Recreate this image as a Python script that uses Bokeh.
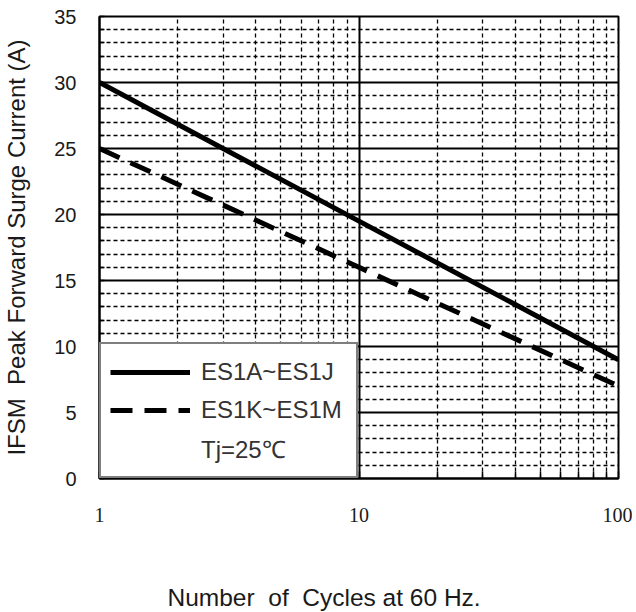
from bokeh.plotting import figure
from bokeh.models import Range1d, FixedTicker, Legend, LegendItem, CustomJSTickFormatter, Title
from bokeh.embed import file_html
from bokeh.resources import INLINE

# ---- data ----
cycles = [1, 10, 100]
es1a_es1j = [30.0, 19.5, 9.0]
es1k_es1m = [25.0, 16.0, 7.0]

y_major = [0, 5, 10, 15, 20, 25, 30, 35]
y_minor = [v for v in range(0, 36) if v % 5 != 0]
x_major = [1, 10, 100]
x_minor = [2, 3, 4, 5, 6, 7, 8, 9, 20, 30, 40, 50, 60, 70, 80, 90]

series_labels = ["ES1A~ES1J", "ES1K~ES1M"]
note_label = "Tj=25\u2103"
x_title = "Number \u00a0of \u00a0Cycles at 60 Hz."
y_title = "IFSM \u00a0Peak Forward Surge Current (A)"

p = figure(width=632, height=612, x_axis_type="log",
           x_range=Range1d(1, 100), y_range=Range1d(0, 35),
           output_backend="svg", toolbar_location=None,
           min_border_left=98, min_border_right=14,
           min_border_top=16, min_border_bottom=134)
p.background_fill_color = "white"
p.border_fill_color = "white"
p.outline_line_color = "black"
p.outline_line_width = 2
p.outline_line_alpha = 1

# tickers
p.xaxis.ticker = FixedTicker(ticks=x_major, minor_ticks=x_minor)
p.yaxis.ticker = FixedTicker(ticks=y_major, minor_ticks=y_minor)
p.xaxis.formatter = CustomJSTickFormatter(code="return String(Math.round(tick));")

# grids
for g in (p.xgrid, p.ygrid):
    g.grid_line_color = "black"
    g.grid_line_width = 2
    g.grid_line_alpha = 1
    g.minor_grid_line_color = "black"
    g.minor_grid_line_width = 1.3
    g.minor_grid_line_dash = "4 3"
    g.minor_grid_line_alpha = 1

# axes
for ax in (p.xaxis, p.yaxis):
    ax.axis_line_color = "black"
    ax.axis_line_width = 2
    ax.major_tick_line_color = "black"
    ax.minor_tick_line_color = "black"
    ax.major_tick_line_width = 1.5
    ax.minor_tick_line_width = 1.5
    ax.major_tick_out = 0
    ax.minor_tick_out = 0
    ax.major_label_text_color = "#1a1a1a"
    ax.axis_label_text_color = "#1a1a1a"
    ax.axis_label_text_font_style = "normal"
    ax.axis_label_text_font = "Liberation Sans"

p.xaxis.major_tick_in = 7
p.xaxis.minor_tick_in = 7
p.yaxis.major_tick_in = 5
p.yaxis.minor_tick_in = 5

p.xaxis.major_label_text_font = "Liberation Serif"
p.xaxis.major_label_text_font_size = "20px"
p.xaxis.major_label_standoff = 29

p.yaxis.major_label_text_font = "Liberation Sans"
p.yaxis.major_label_text_font_size = "20px"
p.yaxis.major_label_standoff = 23
p.yaxis.axis_label = y_title
p.yaxis.axis_label_text_font_size = "24px"
p.yaxis.axis_label_standoff = 21

# blank spacer panel, then the x axis title shifted to be centred on the page
spacer = Title(text=" ", standoff=54, text_font_size="1px")
p.add_layout(spacer, "below")
xt = Title(text=x_title, align="left", offset=68, standoff=0,
           text_font="Liberation Sans", text_font_size="24.5px",
           text_font_style="normal", text_color="#1a1a1a")
p.add_layout(xt, "below")

# curves
r1 = p.line(cycles, es1a_es1j, line_color="black", line_width=5, line_cap="butt")
r2 = p.line(cycles, es1k_es1m, line_color="black", line_width=5,
            line_dash="22 12", line_cap="butt")
r3 = p.line(cycles, es1a_es1j, line_color="black", line_alpha=0, line_width=1)

legend = Legend(items=[LegendItem(label=series_labels[0], renderers=[r1]),
                       LegendItem(label=series_labels[1], renderers=[r2]),
                       LegendItem(label=note_label, renderers=[r3])],
                location="bottom_left", margin=0, padding=9, spacing=0,
                glyph_width=80, glyph_height=38, label_height=38,
                label_standoff=11, label_width=146,
                label_text_font="Liberation Sans", label_text_font_size="24px",
                label_text_color="#333333",
                border_line_color="black", border_line_width=2,
                background_fill_color="white", background_fill_alpha=1)
legend.level = "glyph"
p.add_layout(legend, "center")

open("out.html", "w").write(file_html(p, INLINE))
